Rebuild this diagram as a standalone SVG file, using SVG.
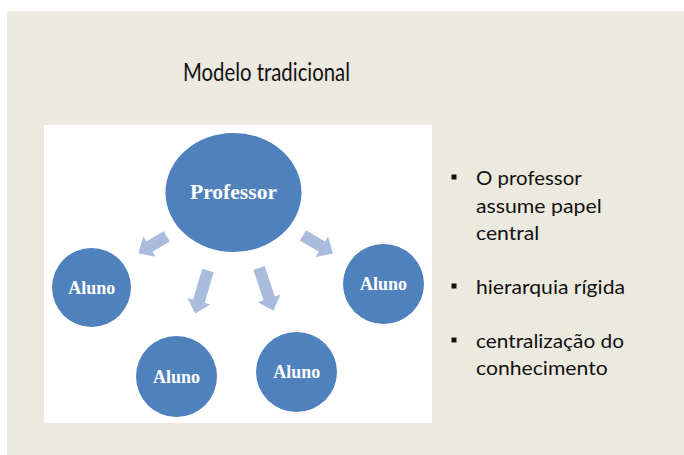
<svg xmlns="http://www.w3.org/2000/svg" width="684" height="455" viewBox="0 0 684 455">
  <style>
    .bg { fill: #ece9df; }
    .panel { fill: #ffffff; }
    .node { fill: #4f81bd; }
    .arrow { fill: #a9bcdb; }
    .ntext { font-family: "Liberation Serif", "Times New Roman", serif; font-weight: bold; fill: #ffffff; text-anchor: middle; }
    .title { font-family: Lato, "Open Sans", "Liberation Sans", sans-serif; font-size: 25px; fill: #111111; text-anchor: middle; }
    .bullet { font-family: Lato, "Open Sans", "Liberation Sans", sans-serif; font-size: 20px; fill: #111111; }
    .sq { fill: #111111; }
  </style>
  <rect x="0" y="0" width="684" height="455" fill="#ffffff"/>
  <rect class="bg" x="7" y="11" width="677" height="444"/>
  <text class="title" x="266.5" y="81" textLength="167" lengthAdjust="spacingAndGlyphs">Modelo tradicional</text>
  <rect class="panel" x="44" y="125" width="388" height="298"/>

  <g id="connectors">
    <path class="arrow" d="M0,-6 L20,-6 L20,-12 L33,0 L20,12 L20,6 L0,6 Z" transform="translate(166.7,236.3) rotate(149.1)"/>
    <path class="arrow" d="M0,-6 L32,-6 L32,-12 L45,0 L32,12 L32,6 L0,6 Z" transform="translate(208,270.5) rotate(106.6)"/>
    <path class="arrow" d="M0,-6 L32,-6 L32,-12 L45,0 L32,12 L32,6 L0,6 Z" transform="translate(259,268) rotate(71.5)"/>
    <path class="arrow" d="M0,-6 L22,-6 L22,-12 L35,0 L22,12 L22,6 L0,6 Z" transform="translate(303,235.3) rotate(31.2)"/>
  </g>

  <g id="professor">
    <ellipse class="node" cx="233.5" cy="192.5" rx="68" ry="59.5"/>
    <text class="ntext" x="233.5" y="199" font-size="22" textLength="87" lengthAdjust="spacingAndGlyphs">Professor</text>
  </g>
  <g id="aluno-left">
    <ellipse class="node" cx="91.5" cy="287.5" rx="39.5" ry="39.5"/>
    <text class="ntext" x="91.7" y="294" font-size="18">Aluno</text>
  </g>
  <g id="aluno-right">
    <ellipse class="node" cx="383.5" cy="284" rx="40.5" ry="40"/>
    <text class="ntext" x="383.5" y="290" font-size="18">Aluno</text>
  </g>
  <g id="aluno-bottom-left">
    <ellipse class="node" cx="176.5" cy="376.5" rx="40.5" ry="40.5"/>
    <text class="ntext" x="176.5" y="382.7" font-size="18">Aluno</text>
  </g>
  <g id="aluno-bottom-right">
    <ellipse class="node" cx="296.5" cy="372" rx="40.5" ry="40"/>
    <text class="ntext" x="296.7" y="378.3" font-size="18">Aluno</text>
  </g>

  <g id="bullets">
    <rect class="sq" x="451.5" y="174.5" width="5" height="5"/>
    <text class="bullet" x="476" y="185" textLength="105.7" lengthAdjust="spacingAndGlyphs">O professor</text>
    <text class="bullet" x="476" y="213" textLength="125.7" lengthAdjust="spacingAndGlyphs">assume papel</text>
    <text class="bullet" x="476" y="240" textLength="63.3" lengthAdjust="spacingAndGlyphs">central</text>
    <rect class="sq" x="451.5" y="283.5" width="5" height="5"/>
    <text class="bullet" x="476" y="294" textLength="149" lengthAdjust="spacingAndGlyphs">hierarquia rígida</text>
    <rect class="sq" x="451.5" y="337.5" width="5" height="5"/>
    <text class="bullet" x="476" y="348" textLength="148" lengthAdjust="spacingAndGlyphs">centralização do</text>
    <text class="bullet" x="476" y="375" textLength="131.7" lengthAdjust="spacingAndGlyphs">conhecimento</text>
  </g>
</svg>
